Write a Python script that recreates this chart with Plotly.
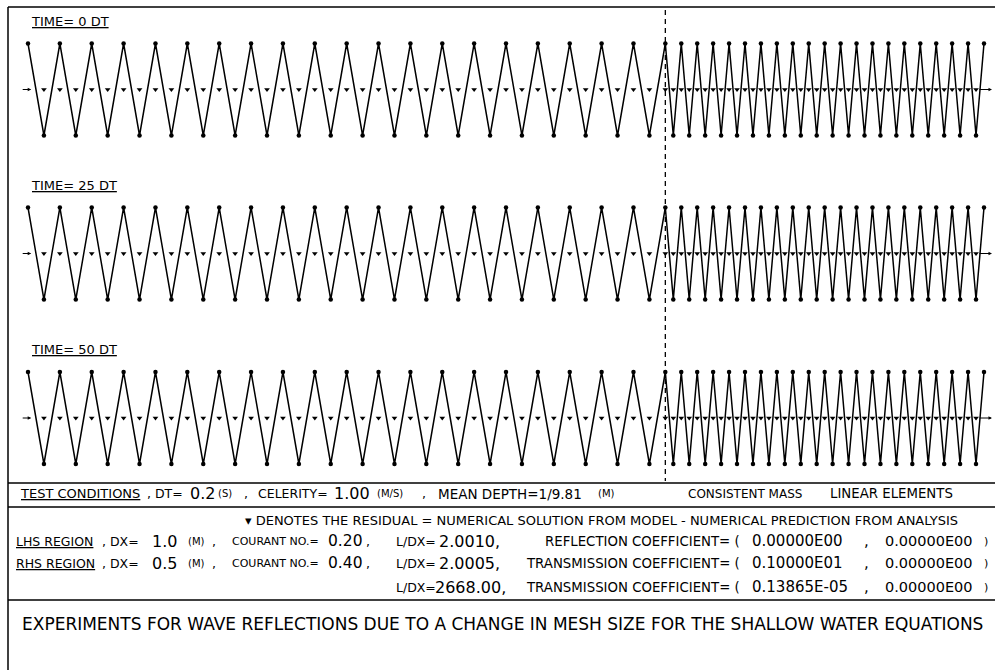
import plotly.graph_objects as go

# Mesh node positions (m): LHS region DX = 1.0 on 0..40, RHS region DX = 0.5 on 40..60
x_nodes = [
    0, 1, 2, 3, 4, 5, 6, 7, 8, 9, 10, 11, 12, 13, 14, 15, 16, 17, 18, 19, 20,
    21, 22, 23, 24, 25, 26, 27, 28, 29, 30, 31, 32, 33, 34, 35, 36, 37, 38, 39, 40,
    40.5, 41, 41.5, 42, 42.5, 43, 43.5, 44, 44.5, 45, 45.5, 46, 46.5, 47, 47.5,
    48, 48.5, 49, 49.5, 50, 50.5, 51, 51.5, 52, 52.5, 53, 53.5, 54, 54.5, 55,
    55.5, 56, 56.5, 57, 57.5, 58, 58.5, 59, 59.5, 60,
]

# Free-surface elevation at the nodes (2*DX wave on both meshes)
eta_0dt = [
    1, -1, 1, -1, 1, -1, 1, -1, 1, -1, 1, -1, 1, -1, 1, -1, 1, -1, 1, -1, 1,
    -1, 1, -1, 1, -1, 1, -1, 1, -1, 1, -1, 1, -1, 1, -1, 1, -1, 1, -1, 1,
    -1, 1, -1, 1, -1, 1, -1, 1, -1, 1, -1, 1, -1, 1, -1, 1, -1, 1, -1, 1,
    -1, 1, -1, 1, -1, 1, -1, 1, -1, 1, -1, 1, -1, 1, -1, 1, -1, 1, -1, 1,
]
eta_25dt = [
    1, -1, 1, -1, 1, -1, 1, -1, 1, -1, 1, -1, 1, -1, 1, -1, 1, -1, 1, -1, 1,
    -1, 1, -1, 1, -1, 1, -1, 1, -1, 1, -1, 1, -1, 1, -1, 1, -1, 1, -1, 1,
    -1, 1, -1, 1, -1, 1, -1, 1, -1, 1, -1, 1, -1, 1, -1, 1, -1, 1, -1, 1,
    -1, 1, -1, 1, -1, 1, -1, 1, -1, 1, -1, 1, -1, 1, -1, 1, -1, 1, -1, 1,
]
eta_50dt = [
    1, -1, 1, -1, 1, -1, 1, -1, 1, -1, 1, -1, 1, -1, 1, -1, 1, -1, 1, -1, 1,
    -1, 1, -1, 1, -1, 1, -1, 1, -1, 1, -1, 1, -1, 1, -1, 1, -1, 1, -1, 1,
    -1, 1, -1, 1, -1, 1, -1, 1, -1, 1, -1, 1, -1, 1, -1, 1, -1, 1, -1, 1,
    -1, 1, -1, 1, -1, 1, -1, 1, -1, 1, -1, 1, -1, 1, -1, 1, -1, 1, -1, 1,
]

# Residual (model minus analytical prediction) at interior nodes
x_resid = [
    1, 2, 3, 4, 5, 6, 7, 8, 9, 10, 11, 12, 13, 14, 15, 16, 17, 18, 19, 20,
    21, 22, 23, 24, 25, 26, 27, 28, 29, 30, 31, 32, 33, 34, 35, 36, 37, 38, 39, 40,
    40.5, 41, 41.5, 42, 42.5, 43, 43.5, 44, 44.5, 45, 45.5, 46, 46.5, 47, 47.5,
    48, 48.5, 49, 49.5, 50, 50.5, 51, 51.5, 52, 52.5, 53, 53.5, 54, 54.5, 55,
    55.5, 56, 56.5, 57, 57.5, 58, 58.5, 59, 59.5,
]
resid_0dt = [0.0] * 79
resid_25dt = [0.0] * 79
resid_50dt = [0.0] * 79

panel_titles = ["TIME= 0 DT", "TIME= 25 DT", "TIME= 50 DT"]
interface_x = 40

W, H = 995, 670
FONT = "DejaVu Sans"
INK = "black"


def py(p):
    return 1 - p / H


def px(p):
    return p / W


fig = go.Figure()

panels = [
    (eta_0dt, resid_0dt, "y"),
    (eta_25dt, resid_25dt, "y2"),
    (eta_50dt, resid_50dt, "y3"),
]
for eta, resid, ax in panels:
    fig.add_trace(go.Scatter(
        x=x_nodes, y=eta, yaxis=ax, mode="lines+markers",
        line=dict(color=INK, width=1.5),
        marker=dict(symbol="circle", size=4.5, color=INK),
        hoverinfo="skip", showlegend=False,
    ))
    fig.add_trace(go.Scatter(
        x=x_resid, y=resid, yaxis=ax, mode="markers",
        marker=dict(symbol="triangle-down", size=5, color=INK),
        hoverinfo="skip", showlegend=False,
    ))

# panel placement (pixel centre of each zero line, amplitude in pixels)
centres = [89.5, 253.5, 418]
amp = 46.0
half = 62.0
yr = [-half / amp, half / amp]

layout_axes = {}
for i, c in enumerate(centres):
    key = "yaxis" if i == 0 else f"yaxis{i + 1}"
    layout_axes[key] = dict(
        domain=[py(c + half), py(c - half)], range=yr, visible=False,
        fixedrange=True,
    )

x_scale = (984 - 28) / 60.0
x_min = -28 / x_scale
x_max = x_min + W / x_scale

fig.update_layout(
    width=W, height=H,
    margin=dict(l=0, r=0, t=0, b=0),
    paper_bgcolor="white", plot_bgcolor="rgba(0,0,0,0)",
    xaxis=dict(domain=[0, 1], range=[x_min, x_max], visible=False, fixedrange=True),
    **layout_axes,
)

shapes = []
# frame and separators
shapes.append(dict(type="line", xref="paper", yref="paper",
                   x0=px(8), x1=1, y0=py(7), y1=py(7), line=dict(color=INK, width=1.5)))
shapes.append(dict(type="line", xref="paper", yref="paper",
                   x0=px(8), x1=px(8), y0=py(7), y1=0, line=dict(color=INK, width=1.5)))
for yy in [483, 507, 600]:
    shapes.append(dict(type="line", xref="paper", yref="paper",
                       x0=px(8), x1=1, y0=py(yy), y1=py(yy), line=dict(color=INK, width=1.5)))
# mesh-size change
shapes.append(dict(type="line", xref="x", yref="paper",
                   x0=interface_x, x1=interface_x, y0=py(10), y1=py(481),
                   line=dict(color=INK, width=1.3, dash="5px,4px")))
fig.update_layout(shapes=shapes)

ann = []
NORMAL = 12.5
BIG = 16
SMALL = 10


def seg(x, y, s, size=NORMAL, anchor="left"):
    ann.append(dict(x=px(x), y=py(y), xref="paper", yref="paper", text=s,
                    showarrow=False, xanchor=anchor, yanchor="middle",
                    font=dict(family=FONT, size=size, color=INK)))


def u(s):
    return f'<span style="text-decoration:underline">{s}</span>'


for title, c in zip(panel_titles, centres):
    seg(29, c - 68, u(title), size=13)

# zero-line arrows at both ends of each panel
for i, c in enumerate(centres):
    ax = "y" if i == 0 else f"y{i + 1}"
    for xt, off in [(0.2, -10), (60.5, -14)]:
        ann.append(dict(x=xt, y=0, xref="x", yref=ax, ax=off, ay=0,
                        showarrow=True, arrowhead=2, arrowsize=0.7,
                        arrowwidth=1, arrowcolor=INK, text=""))

# test condition block
r1 = 494
seg(18, r1, u("TEST CONDITIONS"), size=13)
seg(145, r1, ", DT=")
seg(188, r1, "0.2", size=BIG)
seg(216, r1, "(S)", size=SMALL)
seg(242, r1, ",")
seg(256, r1, "CELERITY=")
seg(332, r1, "1.00", size=BIG)
seg(375, r1, "(M/S)", size=SMALL)
seg(420, r1, ",")
seg(436, r1, "MEAN DEPTH=1/9.81", size=13.5)
seg(596, r1, "(M)", size=SMALL)
seg(686, r1, "CONSISTENT MASS", size=12)
seg(828, r1, "LINEAR ELEMENTS", size=13.3)

seg(243, 520, "▾ DENOTES THE RESIDUAL = NUMERICAL SOLUTION FROM MODEL - "
    "NUMERICAL PREDICTION FROM ANALYSIS", size=13)

rows = [
    (541, "LHS REGION", "1.0", "0.20", "2.0010"),
    (563, "RHS REGION", "0.5", "0.40", "2.0005"),
]
for y, name, dx, cn, ldx in rows:
    seg(14, y, u(name))
    seg(100, y, ", DX=")
    seg(150, y, dx, size=BIG)
    seg(186, y, "(M)", size=SMALL)
    seg(210, y, ",")
    seg(230, y, "COURANT NO.=", size=11)
    seg(326, y, cn, size=15.5)
    seg(364, y, ",")
    seg(394, y, "L/DX=")
    seg(437, y, ldx + ",", size=BIG)

seg(394, 587, "L/DX=")
seg(433, 587, "2668.00,", size=BIG)

seg(742, 541, "REFLECTION COEFFICIENT= (", size=13.3, anchor="right")
seg(742, 563, "TRANSMISSION COEFFICIENT= (", size=13.3, anchor="right")
seg(742, 587, "TRANSMISSION COEFFICIENT= (", size=13.3, anchor="right")
seg(750, 541, "0.00000E00", size=15)
seg(750, 563, "0.10000E01", size=15)
seg(750, 587, "0.13865E-05", size=15)
seg(862, 541, ",", size=15)
seg(862, 563, ",", size=15)
seg(862, 587, ",", size=15)
for y in [541, 563, 587]:
    seg(883, y, "0.00000E00", size=14.5)
    seg(990, y, ")", size=11, anchor="right")

seg(20, 624, "EXPERIMENTS FOR WAVE REFLECTIONS DUE TO A CHANGE IN MESH SIZE "
    "FOR THE SHALLOW WATER EQUATIONS", size=17)

fig.update_layout(annotations=ann)

fig.write_html("out.html")
